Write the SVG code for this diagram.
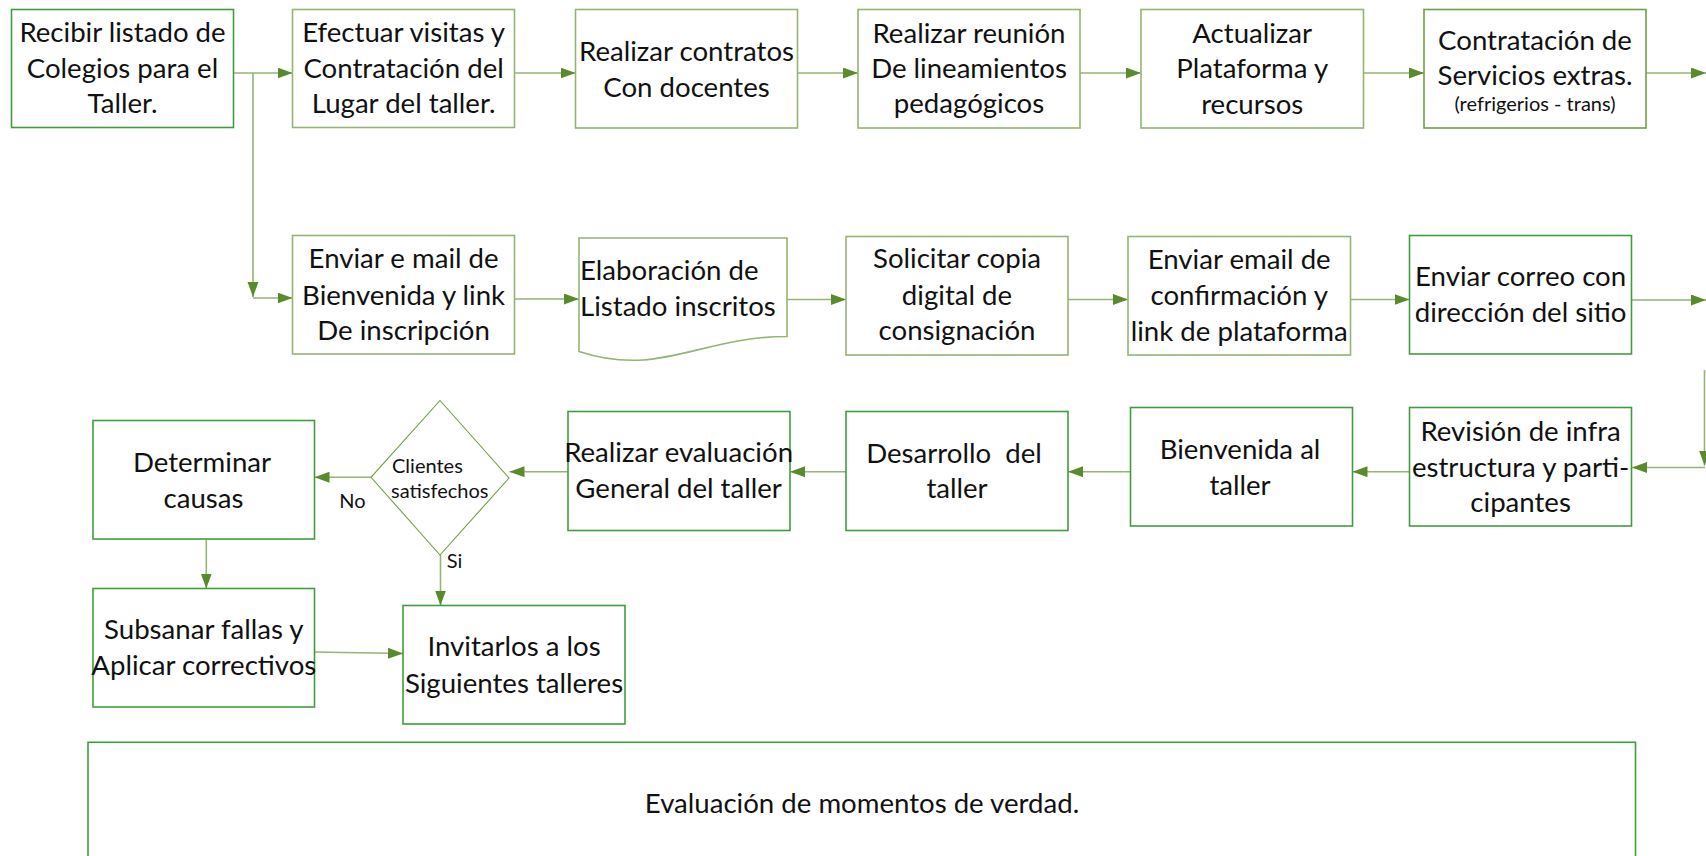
<svg xmlns="http://www.w3.org/2000/svg" width="1706" height="856" viewBox="0 0 1706 856">
<style>
text { font-family: Lato, "Liberation Sans", sans-serif; fill: #111; }
.t { font-size: 27.6px; text-anchor: middle; }
.tl { font-size: 27.6px; }
.s { font-size: 20px; }
.sm { font-size: 20px; text-anchor: middle; }
.box { fill: #fff; stroke-width: 1.6; }
.olive { stroke: #93b572; }
.olived { stroke: #72a040; }
.green { stroke: #3e9e3e; }
.conn { fill: none; stroke: #94b574; stroke-width: 1.6; marker-end: url(#ah); }
</style>
<defs>
<marker id="ah" markerUnits="userSpaceOnUse" markerWidth="16" markerHeight="12" refX="15" refY="5.5" orient="auto">
<path d="M0,0 L15,5.5 L0,11 z" fill="#5a8b2a"/>
</marker>
</defs>
<rect x="0" y="0" width="1706" height="856" fill="#fff"/>

<g id="connectors">
<path class="conn" d="M233.5,73 H292.5"/>
<path class="conn" d="M253,73 V297"/>
<path class="conn" d="M253,298 H292.5"/>
<path class="conn" d="M514.5,73 H575.5"/>
<path class="conn" d="M797.5,73 H858"/>
<path class="conn" d="M1080,73 H1141"/>
<path class="conn" d="M1363.5,73 H1424"/>
<path class="conn" d="M1646,73 H1706"/>
<path class="conn" d="M514.5,299 H579"/>
<path class="conn" d="M787,299.5 H846"/>
<path class="conn" d="M1068,299.5 H1128"/>
<path class="conn" d="M1350.5,299.5 H1409.5"/>
<path class="conn" d="M1632,300 H1706"/>
<path class="conn" d="M1704.5,370 V465.5"/>
<path class="conn" d="M1705,467.5 H1632"/>
<path class="conn" d="M1409.5,471.7 H1352.5"/>
<path class="conn" d="M1130.5,471.7 H1068"/>
<path class="conn" d="M846,471.7 H790"/>
<path class="conn" d="M568,471.7 H509.5"/>
<path class="conn" d="M371,477.3 H314.5"/>
<path class="conn" d="M206.3,539 V588.5"/>
<path class="conn" d="M440.5,555 V605.5"/>
<path class="conn" d="M314.5,652 L403,653.5"/>
</g>

<g id="n1">
<rect class="box green" x="11.5" y="9.5" width="222" height="118"/>
<text class="t" x="122.5" y="41.7">Recibir listado de</text>
<text class="t" x="122.5" y="78.3">Colegios para el</text>
<text class="t" x="122.5" y="113.3">Taller.</text>
</g>
<g id="n2">
<rect class="box olive" x="292.5" y="9.5" width="222" height="118"/>
<text class="t" x="403.6" y="41.7">Efectuar visitas y</text>
<text class="t" x="403.6" y="78.3">Contratación del</text>
<text class="t" x="403.6" y="113.3">Lugar del taller.</text>
</g>
<g id="n3">
<rect class="box olive" x="575.5" y="9.5" width="222" height="118.5"/>
<text class="t" x="686.5" y="61">Realizar contratos</text>
<text class="t" x="686.5" y="97">Con docentes</text>
</g>
<g id="n4">
<rect class="box olive" x="858" y="9.5" width="222" height="118.5"/>
<text class="t" x="969" y="42.7">Realizar reunión</text>
<text class="t" x="969" y="78.3">De lineamientos</text>
<text class="t" x="969" y="113">pedagógicos</text>
</g>
<g id="n5">
<rect class="box olive" x="1141" y="9.5" width="222.5" height="118.5"/>
<text class="t" x="1252.2" y="42.7">Actualizar</text>
<text class="t" x="1252.2" y="78.3">Plataforma y</text>
<text class="t" x="1252.2" y="114.3">recursos</text>
</g>
<g id="n6">
<rect class="box olived" x="1424" y="9.5" width="222" height="118.5"/>
<text class="t" x="1535" y="49.5">Contratación de</text>
<text class="t" x="1535" y="84.5">Servicios extras.</text>
<text class="sm" x="1535" y="111">(refrigerios - trans)</text>
</g>

<g id="n7">
<rect class="box olive" x="292.5" y="235.5" width="222" height="118.5"/>
<text class="t" x="403.6" y="268.3">Enviar e mail de</text>
<text class="t" x="403.6" y="305">Bienvenida y link</text>
<text class="t" x="403.6" y="340">De inscripción</text>
</g>
<g id="n8">
<path class="box olive" d="M579,238 H787 V336.5 C700,336.5 660,378 579,351.5 Z"/>
<text class="tl" x="580" y="280">Elaboración de</text>
<text class="tl" x="580" y="315.5">Listado inscritos</text>
</g>
<g id="n9">
<rect class="box olive" x="846" y="236.5" width="222" height="118.5"/>
<text class="t" x="957" y="268.3">Solicitar copia</text>
<text class="t" x="957" y="305">digital de</text>
<text class="t" x="957" y="340">consignación</text>
</g>
<g id="n10">
<rect class="box olive" x="1128" y="236.5" width="222.5" height="118.5"/>
<text class="t" x="1239.2" y="269.3">Enviar email de</text>
<text class="t" x="1239.2" y="305">confirmación y</text>
<text class="t" x="1239.2" y="340.7">link de plataforma</text>
</g>
<g id="n11">
<rect class="box green" x="1409.5" y="235.5" width="222" height="118.5"/>
<text class="t" x="1520.6" y="286">Enviar correo con</text>
<text class="t" x="1520.6" y="321.7">dirección del sitio</text>
</g>

<g id="n12">
<rect class="box green" x="1409.5" y="407.5" width="222" height="118.5"/>
<text class="t" x="1520.6" y="440.7">Revisión de infra</text>
<text class="t" x="1520.6" y="476.7">estructura y parti-</text>
<text class="t" x="1520.6" y="511.7">cipantes</text>
</g>
<g id="n13">
<rect class="box green" x="1130.5" y="407.5" width="222" height="118.5"/>
<text class="t" x="1240" y="459">Bienvenida al</text>
<text class="t" x="1240" y="495">taller</text>
</g>
<g id="n14">
<rect class="box green" x="846" y="411.5" width="222" height="119"/>
<text class="t" x="954" y="462.7" style="white-space:pre">Desarrollo  del</text>
<text class="t" x="957" y="498.3">taller</text>
</g>
<g id="n15">
<rect class="box green" x="568" y="411.5" width="222" height="119"/>
<text class="t" x="678.6" y="461.7">Realizar evaluación</text>
<text class="t" x="678.6" y="498.3">General del taller</text>
</g>
<g id="n16">
<path class="box olived" style="stroke-width:1.1" d="M440,400.5 L509,478 L440,555 L371,477.3 Z"/>
<text class="s" x="392" y="473.3">Clientes</text>
<text class="s" x="391" y="498.3">satisfechos</text>
</g>
<g id="n17">
<rect class="box green" x="93" y="420.5" width="221.5" height="118.5"/>
<text class="t" x="202" y="471.7">Determinar</text>
<text class="t" x="203.5" y="507.7">causas</text>
</g>
<g id="n18">
<rect class="box green" x="93" y="588.5" width="221.5" height="118.5"/>
<text class="t" x="203.8" y="639.3">Subsanar fallas y</text>
<text class="t" x="203.8" y="675">Aplicar correctivos</text>
</g>
<g id="n19">
<rect class="box green" x="403" y="605.5" width="222" height="118.5"/>
<text class="t" x="514" y="656">Invitarlos a los</text>
<text class="t" x="514" y="692.7">Siguientes talleres</text>
</g>
<g id="n20">
<rect class="box green" x="88" y="742.3" width="1547.5" height="140"/>
<text class="t" x="862" y="813">Evaluación de momentos de verdad.</text>
</g>

<g id="labels">
<text class="s" x="339.3" y="507.7">No</text>
<text class="s" x="446.7" y="567.7">Si</text>
</g>
</svg>
